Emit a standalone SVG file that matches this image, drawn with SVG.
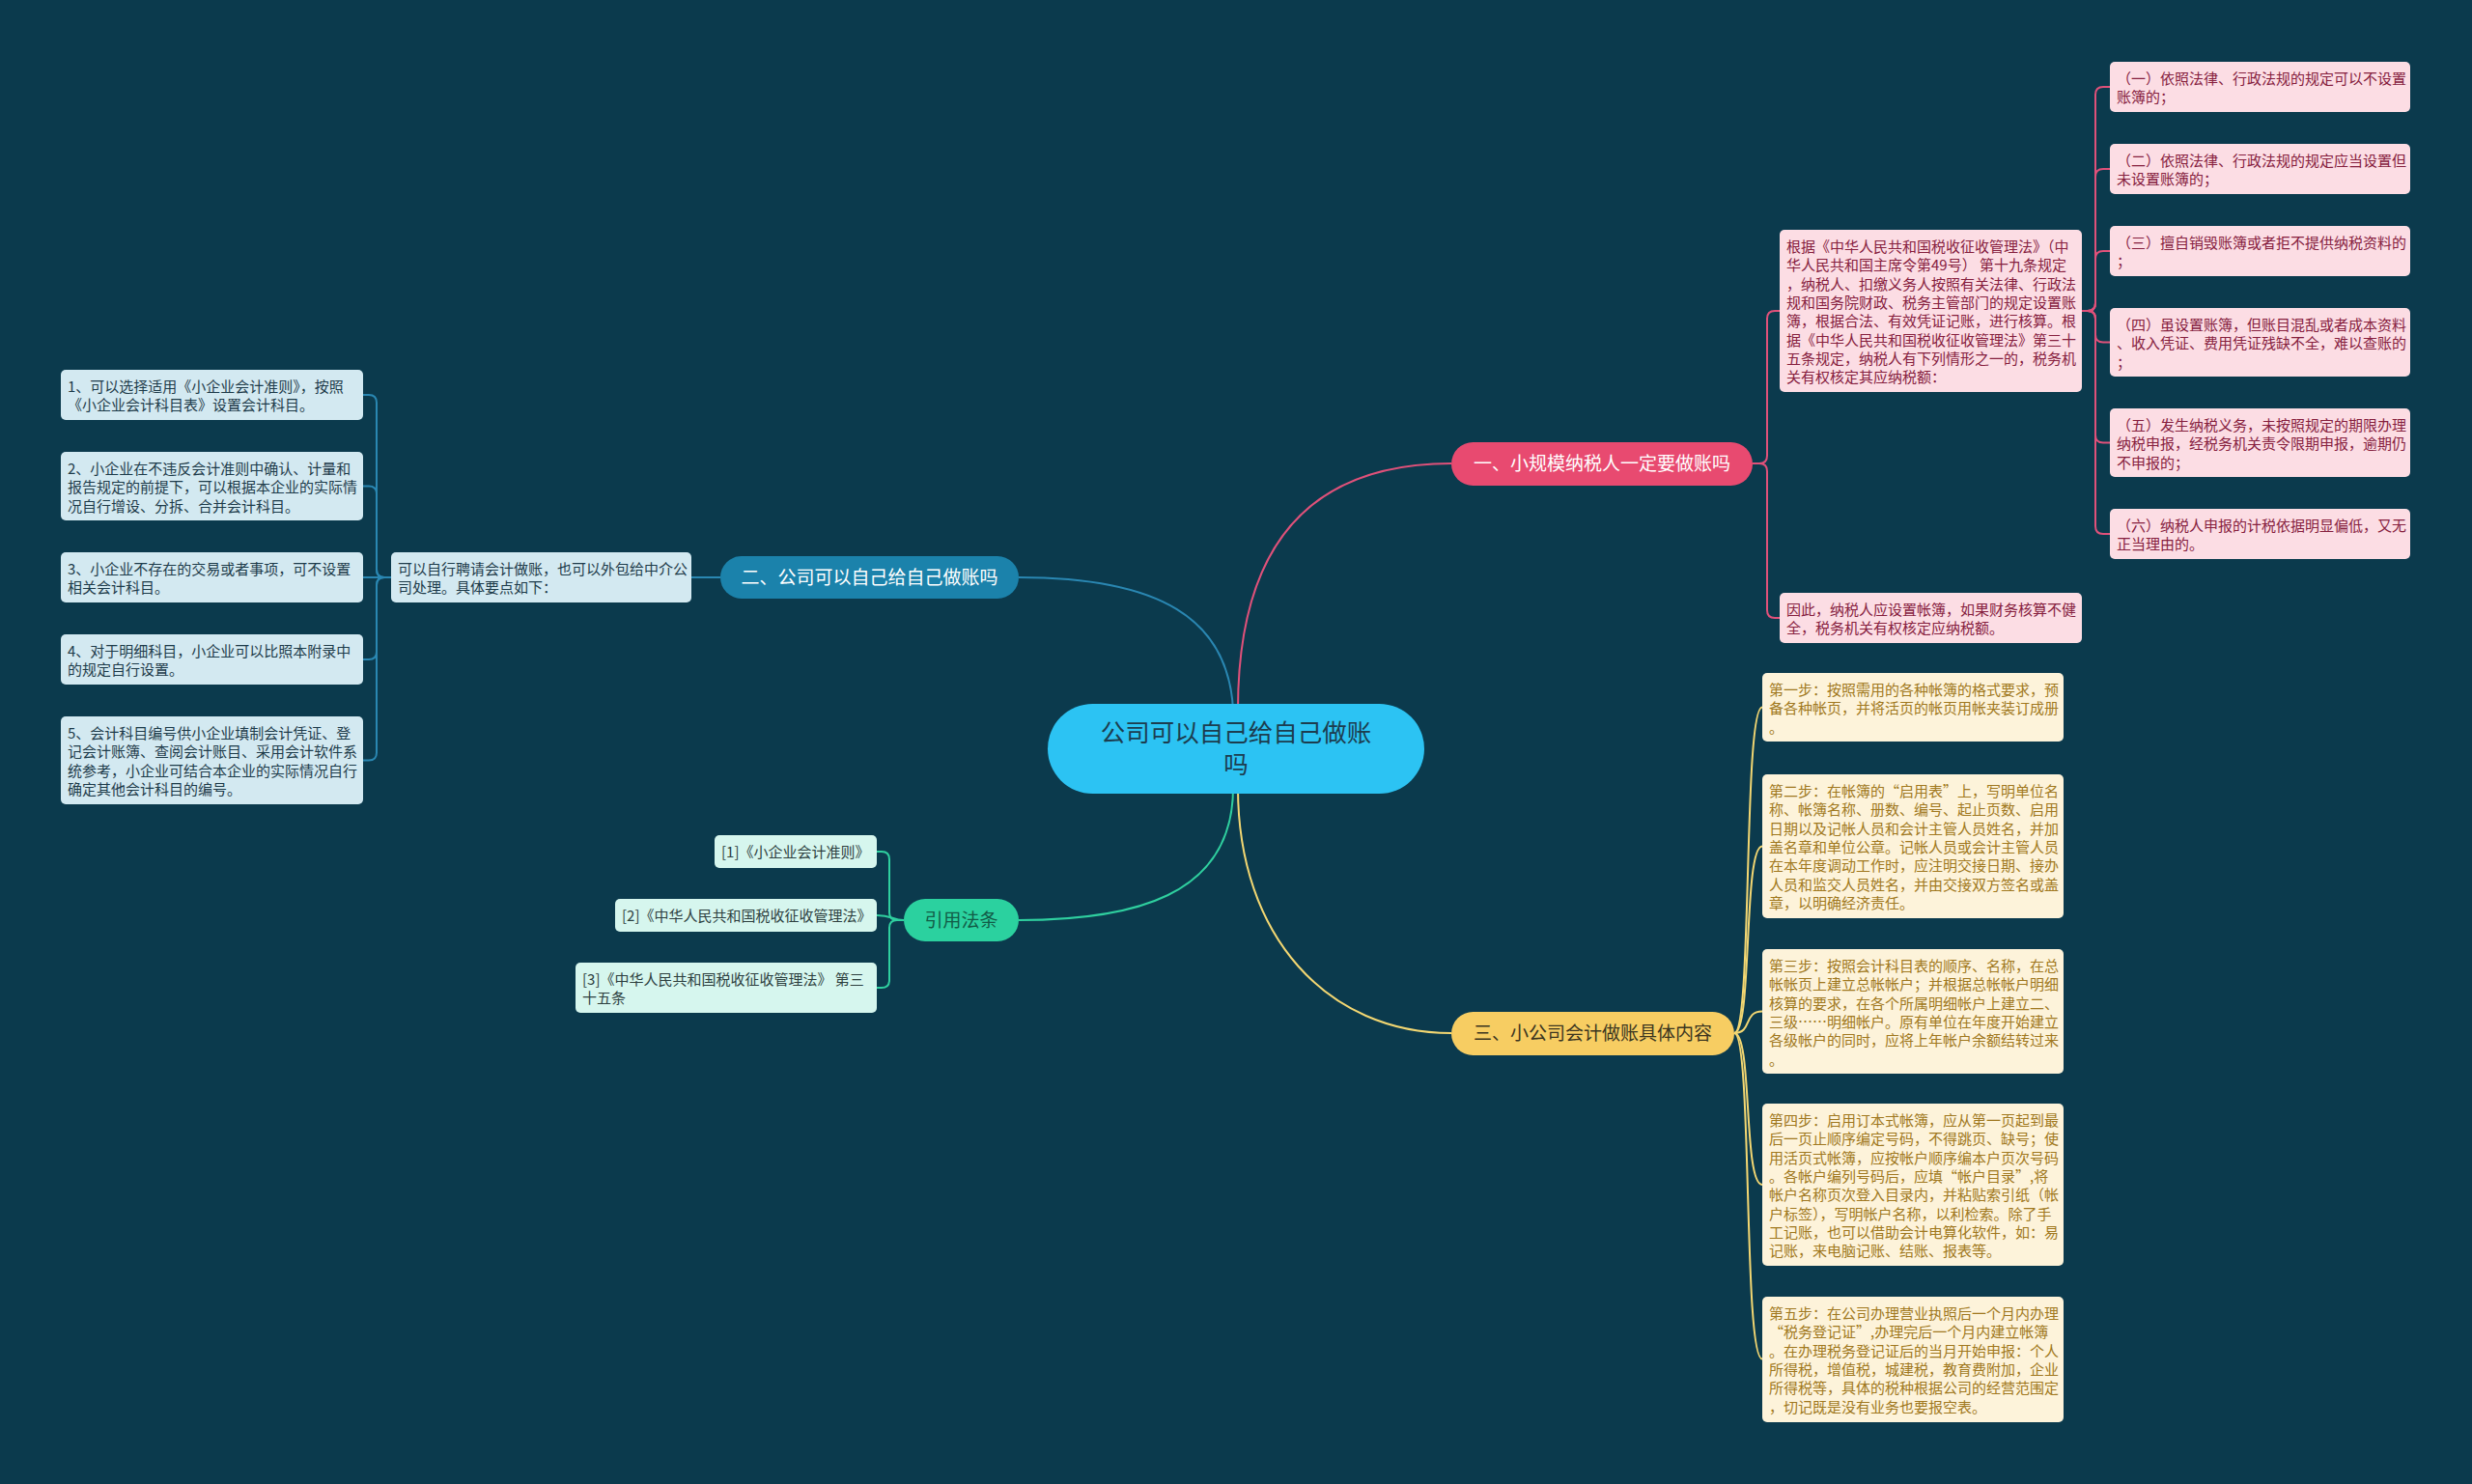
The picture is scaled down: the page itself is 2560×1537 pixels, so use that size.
<svg xmlns="http://www.w3.org/2000/svg" width="2560" height="1537" viewBox="0 0 2560 1537">
<style>
.conn{fill:none;stroke-width:2}
.cp{stroke:#e0517a}
.cb{stroke:#2a87b2}
.cy{stroke:#f3d772}
.cg{stroke:#2fcf9f}
.t{font-family:"Noto Sans CJK SC","Noto Sans",sans-serif;font-size:15px}
.bp{fill:#fcdde4}
.bb{fill:#d3e9f1}
.by{fill:#fdf3da}
.bg{fill:#d6f6ee}
.tp{fill:#86203e}
.tb{fill:#1d3b4a}
.ty{fill:#a07820}
.tg{fill:#2d3f3f}
.br{font-family:"Noto Sans CJK SC","Noto Sans",sans-serif;font-size:19px;text-anchor:middle}
</style>
<rect width="2560" height="1537" fill="#0b3a4d"/>

<g id="connectors">
<path class="conn cp" d="M1282,735 C1282,560 1360,480 1503,480"/>
<path class="conn cb" d="M1277,735 C1272,640 1200,598 1055,598"/>
<path class="conn cy" d="M1282,816 C1282,970 1375,1070 1503,1070"/>
<path class="conn cg" d="M1277,816 C1277,930 1170,953 1055,953"/>

<path class="conn cp" d="M1815,480 H1822 Q1830,480 1830,472 V330 Q1830,322 1838,322 H1843"/>
<path class="conn cp" d="M1815,480 H1822 Q1830,480 1830,488 V632 Q1830,640 1838,640 H1843"/>
<path class="conn cp" d="M2156,322 H2162 Q2170,322 2170,314 V98 Q2170,90 2178,90 H2185"/>
<path class="conn cp" d="M2156,322 H2162 Q2170,322 2170,314 V183 Q2170,175 2178,175 H2185"/>
<path class="conn cp" d="M2156,322 H2162 Q2170,322 2170,314 V268 Q2170,260 2178,260 H2185"/>
<path class="conn cp" d="M2156,322 H2162 Q2170,322 2170,330 V346.5 Q2170,354.5 2178,354.5 H2185"/>
<path class="conn cp" d="M2156,322 H2162 Q2170,322 2170,330 V450.5 Q2170,458.5 2178,458.5 H2185"/>
<path class="conn cp" d="M2156,322 H2162 Q2170,322 2170,330 V545 Q2170,553 2178,553 H2185"/>

<path class="conn cb" d="M746,598 H716"/>
<path class="conn cb" d="M405,598 H398 Q390,598 390,590 V417 Q390,409 382,409 H376"/>
<path class="conn cb" d="M405,598 H398 Q390,598 390,590 V511.5 Q390,503.5 382,503.5 H376"/>
<path class="conn cb" d="M405,598 H376"/>
<path class="conn cb" d="M405,598 H398 Q390,598 390,606 V675 Q390,683 382,683 H376"/>
<path class="conn cb" d="M405,598 H398 Q390,598 390,606 V779.5 Q390,787.5 382,787.5 H376"/>

<path class="conn cy" d="M1796,1070 C1815,1070 1805,732.5 1825,732.5"/>
<path class="conn cy" d="M1796,1070 C1815,1070 1805,876.5 1825,876.5"/>
<path class="conn cy" d="M1796,1070 C1815,1070 1805,1047.5 1825,1047.5"/>
<path class="conn cy" d="M1796,1070 C1815,1070 1805,1227 1825,1227"/>
<path class="conn cy" d="M1796,1070 C1815,1070 1805,1407.5 1825,1407.5"/>

<path class="conn cg" d="M936,953 H929 Q921,953 921,945 V890 Q921,882 913,882 H908"/>
<path class="conn cg" d="M936,953 C924,953 924,948 908,948"/>
<path class="conn cg" d="M936,953 H929 Q921,953 921,961 V1015 Q921,1023 913,1023 H908"/>
</g>

<g id="center">
<rect x="1085" y="729" width="390" height="93" rx="46.5" fill="#2cc3f3"/>
<text font-family="'Noto Sans CJK SC','Noto Sans',sans-serif" font-size="25.5" fill="#1c3d4f" text-anchor="middle"><tspan x="1280" y="768">公司可以自己给自己做账</tspan><tspan x="1280" y="801">吗</tspan></text>
</g>

<g id="branch1">
<rect x="1503" y="458" width="312" height="45" rx="22.5" fill="#e84a70"/>
<text class="br" x="1659" y="487" fill="#ffffff">一、小规模纳税人一定要做账吗</text>
</g>
<g id="branch2">
<rect x="746" y="576" width="309" height="44" rx="22" fill="#1b82ab"/>
<text class="br" x="900.5" y="605" fill="#ffffff">二、公司可以自己给自己做账吗</text>
</g>
<g id="branch3">
<rect x="1503" y="1048" width="293" height="45" rx="22.5" fill="#f7cd62"/>
<text class="br" x="1649.5" y="1077" fill="#3b3520">三、小公司会计做账具体内容</text>
</g>
<g id="branch4">
<rect x="936" y="931" width="119" height="44" rx="22" fill="#2bd19f"/>
<text class="br" x="995.5" y="960" fill="#125c47">引用法条</text>
</g>

<g id="p0">
<rect class="bp" x="1843" y="238" width="313" height="168" rx="5"/>
<text class="t tp"><tspan x="1850" y="261">根据《中华人民共和国税收征收管理法》（中</tspan><tspan x="1850" dy="19.3">华人民共和国主席令第49号） 第十九条规定</tspan><tspan x="1850" dy="19.3">，纳税人、扣缴义务人按照有关法律、行政法</tspan><tspan x="1850" dy="19.3">规和国务院财政、税务主管部门的规定设置账</tspan><tspan x="1850" dy="19.3">簿，根据合法、有效凭证记账，进行核算。根</tspan><tspan x="1850" dy="19.3">据《中华人民共和国税收征收管理法》第三十</tspan><tspan x="1850" dy="19.3">五条规定，纳税人有下列情形之一的，税务机</tspan><tspan x="1850" dy="19.3">关有权核定其应纳税额：</tspan></text>
</g>
<g id="p7">
<rect class="bp" x="1843" y="614" width="313" height="52" rx="5"/>
<text class="t tp"><tspan x="1850" y="637">因此，纳税人应设置帐簿，如果财务核算不健</tspan><tspan x="1850" dy="19.3">全，税务机关有权核定应纳税额。</tspan></text>
</g>
<g id="p1">
<rect class="bp" x="2185" y="64" width="311" height="52" rx="5"/>
<text class="t tp"><tspan x="2192" y="87">（一）依照法律、行政法规的规定可以不设置</tspan><tspan x="2192" dy="19.3">账簿的；</tspan></text>
</g>
<g id="p2">
<rect class="bp" x="2185" y="149" width="311" height="52" rx="5"/>
<text class="t tp"><tspan x="2192" y="172">（二）依照法律、行政法规的规定应当设置但</tspan><tspan x="2192" dy="19.3">未设置账簿的；</tspan></text>
</g>
<g id="p3">
<rect class="bp" x="2185" y="234" width="311" height="52" rx="5"/>
<text class="t tp"><tspan x="2192" y="257">（三）擅自销毁账簿或者拒不提供纳税资料的</tspan><tspan x="2192" dy="19.3">；</tspan></text>
</g>
<g id="p4">
<rect class="bp" x="2185" y="319" width="311" height="71" rx="5"/>
<text class="t tp"><tspan x="2192" y="342">（四）虽设置账簿，但账目混乱或者成本资料</tspan><tspan x="2192" dy="19.3">、收入凭证、费用凭证残缺不全，难以查账的</tspan><tspan x="2192" dy="19.3">；</tspan></text>
</g>
<g id="p5">
<rect class="bp" x="2185" y="423" width="311" height="71" rx="5"/>
<text class="t tp"><tspan x="2192" y="446">（五）发生纳税义务，未按照规定的期限办理</tspan><tspan x="2192" dy="19.3">纳税申报，经税务机关责令限期申报，逾期仍</tspan><tspan x="2192" dy="19.3">不申报的；</tspan></text>
</g>
<g id="p6">
<rect class="bp" x="2185" y="527" width="311" height="52" rx="5"/>
<text class="t tp"><tspan x="2192" y="550">（六）纳税人申报的计税依据明显偏低，又无</tspan><tspan x="2192" dy="19.3">正当理由的。</tspan></text>
</g>

<g id="b0">
<rect class="bb" x="405" y="572" width="311" height="52" rx="5"/>
<text class="t tb"><tspan x="412" y="595">可以自行聘请会计做账，也可以外包给中介公</tspan><tspan x="412" dy="19.3">司处理。具体要点如下：</tspan></text>
</g>
<g id="b1">
<rect class="bb" x="63" y="383" width="313" height="52" rx="5"/>
<text class="t tb"><tspan x="70" y="406">1、可以选择适用《小企业会计准则》，按照</tspan><tspan x="70" dy="19.3">《小企业会计科目表》设置会计科目。</tspan></text>
</g>
<g id="b2">
<rect class="bb" x="63" y="468" width="313" height="71" rx="5"/>
<text class="t tb"><tspan x="70" y="491">2、小企业在不违反会计准则中确认、计量和</tspan><tspan x="70" dy="19.3">报告规定的前提下，可以根据本企业的实际情</tspan><tspan x="70" dy="19.3">况自行增设、分拆、合并会计科目。</tspan></text>
</g>
<g id="b3">
<rect class="bb" x="63" y="572" width="313" height="52" rx="5"/>
<text class="t tb"><tspan x="70" y="595">3、小企业不存在的交易或者事项，可不设置</tspan><tspan x="70" dy="19.3">相关会计科目。</tspan></text>
</g>
<g id="b4">
<rect class="bb" x="63" y="657" width="313" height="52" rx="5"/>
<text class="t tb"><tspan x="70" y="680">4、对于明细科目，小企业可以比照本附录中</tspan><tspan x="70" dy="19.3">的规定自行设置。</tspan></text>
</g>
<g id="b5">
<rect class="bb" x="63" y="742" width="313" height="91" rx="5"/>
<text class="t tb"><tspan x="70" y="765">5、会计科目编号供小企业填制会计凭证、登</tspan><tspan x="70" dy="19.3">记会计账簿、查阅会计账目、采用会计软件系</tspan><tspan x="70" dy="19.3">统参考，小企业可结合本企业的实际情况自行</tspan><tspan x="70" dy="19.3">确定其他会计科目的编号。</tspan></text>
</g>

<g id="y1">
<rect class="by" x="1825" y="697" width="312" height="71" rx="5"/>
<text class="t ty"><tspan x="1832" y="720">第一步：按照需用的各种帐簿的格式要求，预</tspan><tspan x="1832" dy="19.3">备各种帐页，并将活页的帐页用帐夹装订成册</tspan><tspan x="1832" dy="19.3">。</tspan></text>
</g>
<g id="y2">
<rect class="by" x="1825" y="802" width="312" height="149" rx="5"/>
<text class="t ty"><tspan x="1832" y="825">第二步：在帐簿的“启用表”上，写明单位名</tspan><tspan x="1832" dy="19.3">称、帐簿名称、册数、编号、起止页数、启用</tspan><tspan x="1832" dy="19.3">日期以及记帐人员和会计主管人员姓名，并加</tspan><tspan x="1832" dy="19.3">盖名章和单位公章。记帐人员或会计主管人员</tspan><tspan x="1832" dy="19.3">在本年度调动工作时，应注明交接日期、接办</tspan><tspan x="1832" dy="19.3">人员和监交人员姓名，并由交接双方签名或盖</tspan><tspan x="1832" dy="19.3">章，以明确经济责任。</tspan></text>
</g>
<g id="y3">
<rect class="by" x="1825" y="983" width="312" height="129" rx="5"/>
<text class="t ty"><tspan x="1832" y="1006">第三步：按照会计科目表的顺序、名称，在总</tspan><tspan x="1832" dy="19.3">帐帐页上建立总帐帐户；并根据总帐帐户明细</tspan><tspan x="1832" dy="19.3">核算的要求，在各个所属明细帐户上建立二、</tspan><tspan x="1832" dy="19.3">三级……明细帐户。原有单位在年度开始建立</tspan><tspan x="1832" dy="19.3">各级帐户的同时，应将上年帐户余额结转过来</tspan><tspan x="1832" dy="19.3">。</tspan></text>
</g>
<g id="y4">
<rect class="by" x="1825" y="1143" width="312" height="168" rx="5"/>
<text class="t ty"><tspan x="1832" y="1166">第四步：启用订本式帐簿，应从第一页起到最</tspan><tspan x="1832" dy="19.3">后一页止顺序编定号码，不得跳页、缺号；使</tspan><tspan x="1832" dy="19.3">用活页式帐簿，应按帐户顺序编本户页次号码</tspan><tspan x="1832" dy="19.3">。各帐户编列号码后，应填“帐户目录”,将</tspan><tspan x="1832" dy="19.3">帐户名称页次登入目录内，并粘贴索引纸（帐</tspan><tspan x="1832" dy="19.3">户标签），写明帐户名称，以利检索。除了手</tspan><tspan x="1832" dy="19.3">工记账，也可以借助会计电算化软件，如：易</tspan><tspan x="1832" dy="19.3">记账，来电脑记账、结账、报表等。</tspan></text>
</g>
<g id="y5">
<rect class="by" x="1825" y="1343" width="312" height="130" rx="5"/>
<text class="t ty"><tspan x="1832" y="1366">第五步：在公司办理营业执照后一个月内办理</tspan><tspan x="1832" dy="19.3">“税务登记证”,办理完后一个月内建立帐簿</tspan><tspan x="1832" dy="19.3">。在办理税务登记证后的当月开始申报：个人</tspan><tspan x="1832" dy="19.3">所得税，增值税，城建税，教育费附加，企业</tspan><tspan x="1832" dy="19.3">所得税等，具体的税种根据公司的经营范围定</tspan><tspan x="1832" dy="19.3">，切记既是没有业务也要报空表。</tspan></text>
</g>

<g id="g1">
<rect class="bg" x="740" y="865" width="168" height="34" rx="5"/>
<text class="t tg" x="747" y="888">[1]《小企业会计准则》</text>
</g>
<g id="g2">
<rect class="bg" x="637" y="931" width="271" height="34" rx="5"/>
<text class="t tg" x="644" y="954">[2]《中华人民共和国税收征收管理法》</text>
</g>
<g id="g3">
<rect class="bg" x="596" y="997" width="312" height="52" rx="5"/>
<text class="t tg"><tspan x="603" y="1020">[3]《中华人民共和国税收征收管理法》 第三</tspan><tspan x="603" dy="19.3">十五条</tspan></text>
</g>
</svg>
